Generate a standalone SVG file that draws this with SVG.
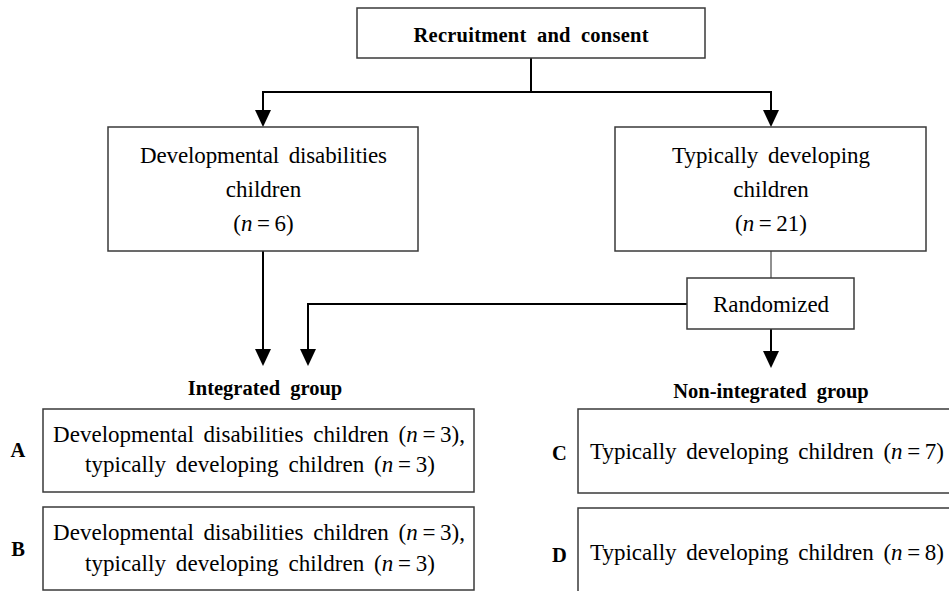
<svg xmlns="http://www.w3.org/2000/svg" width="949" height="591" viewBox="0 0 949 591">
<style>
  .box { fill: #fff; stroke: #3a3a3a; stroke-width: 1.5; }
  .t { font-family: "Liberation Serif", "Times New Roman", serif; font-size: 23px; fill: #000; word-spacing: 4px; }
  .b { font-family: "Liberation Serif", "Times New Roman", serif; font-size: 20.5px; font-weight: bold; fill: #000; word-spacing: 5px; }
  .c { fill: none; stroke: #000; stroke-width: 2; }
  .thin { fill: none; stroke: #222; stroke-width: 1; }
  .i { font-style: italic; }
</style>
<defs>
  <marker id="arr" markerUnits="userSpaceOnUse" markerWidth="17" markerHeight="17" refX="0" refY="8" orient="auto" viewBox="0 0 17 16">
    <path d="M0,0 L17,8 L0,16 z" fill="#000"/>
  </marker>
</defs>
<rect width="949" height="591" fill="#fff"/>

<g id="connectors">
  <path class="c" d="M531,58 V92"/>
  <path class="c" d="M262,92 H771"/>
  <path class="c" d="M263,91 V110" marker-end="url(#arr)"/>
  <path class="c" d="M771,91 V110" marker-end="url(#arr)"/>
  <path class="c" d="M263,251 V349" marker-end="url(#arr)"/>
  <path class="thin" d="M771,251 V278"/>
  <path class="c" d="M687,304 H308 V349" marker-end="url(#arr)"/>
  <path class="c" d="M771,329 V351" marker-end="url(#arr)"/>
</g>

<g id="recruitment">
  <rect class="box" x="357" y="8" width="348" height="50"/>
  <text class="b" x="531" y="42" text-anchor="middle" textLength="235">Recruitment and consent</text>
</g>

<g id="dd-children">
  <rect class="box" x="108" y="127" width="310" height="124"/>
  <text class="t" x="263.5" y="163" text-anchor="middle" textLength="247">Developmental disabilities</text>
  <text class="t" x="263.5" y="197" text-anchor="middle">children</text>
  <text class="t" x="263.5" y="231" text-anchor="middle">(<tspan class="i">n</tspan>&#8201;=&#8201;6)</text>
</g>

<g id="td-children">
  <rect class="box" x="615" y="127" width="311" height="124"/>
  <text class="t" x="771" y="163" text-anchor="middle" textLength="198">Typically developing</text>
  <text class="t" x="771" y="197" text-anchor="middle">children</text>
  <text class="t" x="771" y="231" text-anchor="middle">(<tspan class="i">n</tspan>&#8201;=&#8201;21)</text>
</g>

<g id="randomized">
  <rect class="box" x="687" y="278" width="167" height="51"/>
  <text class="t" x="771" y="312" text-anchor="middle">Randomized</text>
</g>

<g id="integrated-label">
  <text class="b" x="265" y="395" text-anchor="middle">Integrated group</text>
</g>

<g id="non-integrated-label">
  <text class="b" x="771" y="398" text-anchor="middle">Non-integrated group</text>
</g>

<g id="group-a">
  <text class="b" x="18" y="457" text-anchor="middle">A</text>
  <rect class="box" x="43" y="409" width="431" height="83"/>
  <text class="t" x="259" y="442" text-anchor="middle" textLength="412">Developmental disabilities children (<tspan class="i">n</tspan>&#8201;=&#8201;3),</text>
  <text class="t" x="260" y="472" text-anchor="middle" textLength="350">typically developing children (<tspan class="i">n</tspan>&#8201;=&#8201;3)</text>
</g>

<g id="group-b">
  <text class="b" x="18" y="556" text-anchor="middle">B</text>
  <rect class="box" x="43" y="507" width="431" height="83"/>
  <text class="t" x="259" y="540" text-anchor="middle" textLength="412">Developmental disabilities children (<tspan class="i">n</tspan>&#8201;=&#8201;3),</text>
  <text class="t" x="260" y="571" text-anchor="middle" textLength="350">typically developing children (<tspan class="i">n</tspan>&#8201;=&#8201;3)</text>
</g>

<g id="group-c">
  <text class="b" x="559.5" y="460" text-anchor="middle">C</text>
  <rect class="box" x="578" y="409" width="380" height="84"/>
  <text class="t" x="590" y="459" textLength="354">Typically developing children (<tspan class="i">n</tspan>&#8201;=&#8201;7)</text>
</g>

<g id="group-d">
  <text class="b" x="559.5" y="562" text-anchor="middle">D</text>
  <rect class="box" x="578" y="508" width="380" height="100"/>
  <text class="t" x="590" y="560" textLength="354">Typically developing children (<tspan class="i">n</tspan>&#8201;=&#8201;8)</text>
</g>
</svg>
